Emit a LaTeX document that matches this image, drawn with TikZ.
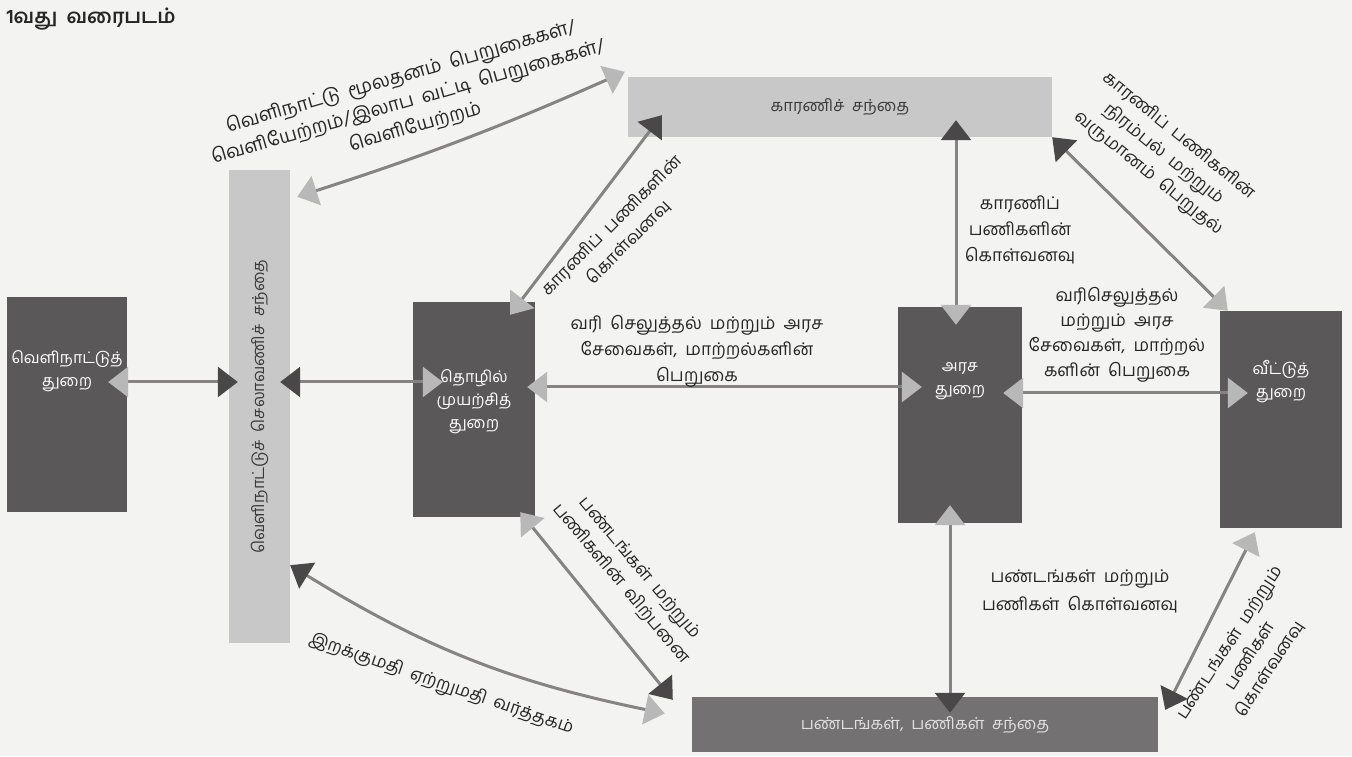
\documentclass[tikz,border=0pt]{standalone}
\usepackage{fontspec}
\setmainfont[Script=Tamil]{Hind Madurai}
\newfontfamily\widetamil[Script=Tamil, WordSpace=1.9]{Hind Madurai}
\usetikzlibrary{arrows.meta, calc}

\definecolor{boxdark}{HTML}{5B5859}
\definecolor{barlight}{HTML}{C9C8C8}
\definecolor{barmid}{HTML}{747172}
\definecolor{tipdark}{HTML}{4A4748}
\definecolor{tiplight}{HTML}{B9B8B8}
\definecolor{flowgray}{HTML}{858384}
\definecolor{inktext}{HTML}{262626}
\definecolor{bartext}{HTML}{3A3A3A}
\definecolor{paper}{HTML}{F3F3F2}

\tikzset{
  sectorbox/.style={fill=boxdark, draw=none, inner sep=0pt},
  marketbar/.style={fill=barlight, draw=none, inner sep=0pt},
  sectortext/.style={text=white, align=center, font=\fontsize{16}{23}\selectfont},
  barlabel/.style={text=bartext, font=\widetamil\fontsize{16.5}{20}\selectfont},
  flowlabel/.style={text=inktext, align=center, font=\widetamil\fontsize{17.5}{26}\selectfont},
  flow/.style={draw=flowgray, line width=3pt},
  dk/.tip={Triangle[length=20pt, width=30pt, color=tipdark]},
  lt/.tip={Triangle[length=20pt, width=30pt, color=tiplight]},
}

\begin{document}
\begin{tikzpicture}[x=1pt, y=1pt]

% page and background
\useasboundingbox (0,0) rectangle (1352,756);
\fill[paper] (0,0) rectangle (1352,756);

% title
\node[anchor=west, text=inktext, font=\widetamil\fontsize{20}{22}\selectfont\bfseries] (title) at (3,737) {1வது வரைபடம்};

% sectors (dark boxes)
\node[sectorbox, minimum width=120pt, minimum height=215pt] (foreign) at (67,351.5) {};
\node[sectorbox, minimum width=122pt, minimum height=215pt] (business) at (474,346.5) {};
\node[sectorbox, minimum width=124pt, minimum height=216pt] (govt) at (960,341) {};
\node[sectorbox, minimum width=122pt, minimum height=217pt] (household) at (1281,336.5) {};

\node[sectortext] (foreign-txt) at ([yshift=33pt]foreign.center) {வெளிநாட்டுத்\\துறை};
\node[sectortext] (business-txt) at ([yshift=8pt]business.center) {தொழில்\\முயற்சித்\\துறை};
\node[sectortext] (govt-txt) at ([yshift=34pt]govt.center) {அரச\\துறை};
\node[sectortext] (household-txt) at ([yshift=38pt]household.center) {வீட்டுத்\\துறை};

% markets (bars)
\node[marketbar, minimum width=61pt, minimum height=473pt] (fx) at (259.5,349.5) {};
\node[barlabel, rotate=90] (fx-txt) at (fx.center) {வெளிநாட்டுச் செலாவணிச் சந்தை};
\node[marketbar, minimum width=424pt, minimum height=60pt, barlabel] (factor) at (840,649) {காரணிச் சந்தை};
\node[marketbar, fill=barmid, minimum width=466pt, minimum height=55pt, barlabel, text=white!88!black] (goods) at (925,31.5) {பண்டங்கள், பணிகள் சந்தை};

% rows and columns for the straight flows
\coordinate (rowA) at (0,374);
\coordinate (rowB) at (0,369);
\coordinate (rowC) at (0,363);
\coordinate (colG) at (956,0);
\coordinate (colH) at (950,0);

% horizontal flows
\draw[flow, {lt}-{dk}, shorten <=-19pt, shorten >=-9pt] (foreign.east |- rowA) -- (fx.west |- rowA);
\draw[flow, {dk}-{lt}, shorten <=-10pt, shorten >=-30pt] (fx.east |- rowA) -- (business.west |- rowA);
\draw[flow, {lt}-{lt}, shorten <=-8pt, shorten >=-24pt] (business.east |- rowB) -- (govt.west |- rowB);
\draw[flow, {lt}-{lt}, shorten <=-19pt, shorten >=-28pt] (govt.east |- rowC) -- (household.west |- rowC);

% vertical flows
\draw[flow, {dk}-{lt}, shorten <=-17pt, shorten >=-18pt] (factor.south -| colG) -- (govt.north -| colG);
\draw[flow, {lt}-{dk}, shorten <=-18pt, shorten >=-16pt] (govt.south -| colH) -- (goods.north -| colH);

% diagonal flows
\draw[flow, {dk}-{lt}] (factor.south east) -- ($(household.north west)+(8,0)$);
\draw[flow, {lt}-{dk}] ($(business.north east)+(-25,-13)$) -- ($(factor.south west)+(34,22)$);
\draw[flow, {lt}-{dk}] ($(business.south east)+(-15,5)$) -- ($(goods.north west)+(-19,-3)$);
\draw[flow, {lt}-{dk}] ($(household.south west)+(35,-4)$) -- ($(goods.north east)+(7,-13)$);

% curved flows of the foreign exchange market
\draw[flow, {lt}-{lt}] ($(fx.north east)+(7,-27)$) to[bend right=3] ($(factor.north west)+(-3,5)$);
\draw[flow, {dk}-{lt}] ($(fx.south east)+(0,78)$) to[bend right=10] ($(goods.west)+(-27,11)$);

% flow labels
\node[flowlabel, rotate=16, font=\widetamil\fontsize{19}{26}\selectfont] (capital-lbl) at (408,654) {வெளிநாட்டு மூலதனம் பெறுகைகள்/\\வெளியேற்றம்/இலாப வட்டி பெறுகைகள்/\\வெளியேற்றம்};
\node[flowlabel, rotate=45, font=\widetamil\fontsize{17.5}{24}\selectfont] (factorbuy-lbl) at (620,522) {காரணிப் பணிகளின்\\கொள்வனவு};
\node[flowlabel] (govbuy-lbl) at (1020,526) {காரணிப்\\பணிகளின்\\கொள்வனவு};
\node[flowlabel, rotate=-39, font=\widetamil\fontsize{17.5}{24}\selectfont] (supply-lbl) at (1163,601) {காரணிப் பணிகளின்\\நிரம்பல் மற்றும்\\வருமானம் பெறுதல்};
\node[flowlabel] (tax-lbl) at (697,405) {வரி செலுத்தல் மற்றும் அரச\\சேவைகள், மாற்றல்களின்\\பெறுகை};
\node[flowlabel, font=\widetamil\fontsize{17.5}{25}\selectfont] (taxhh-lbl) at (1117,421) {வரிசெலுத்தல்\\மற்றும் அரச\\சேவைகள், மாற்றல்\\களின் பெறுகை};
\node[flowlabel, rotate=-50, font=\widetamil\fontsize{17.5}{24}\selectfont] (sales-lbl) at (630,180) {பண்டங்கள் மற்றும்\\பணிகளின் விற்பனை};
\node[flowlabel, rotate=-19] (trade-lbl) at (441,71) {இறக்குமதி ஏற்றுமதி வர்த்தகம்};
\node[flowlabel, font=\widetamil\fontsize{17.5}{28}\selectfont] (govgoods-lbl) at (1080,165) {பண்டங்கள் மற்றும்\\பணிகள் கொள்வனவு};
\node[flowlabel, rotate=57, font=\widetamil\fontsize{17.5}{24}\selectfont] (hhgoods-lbl) at (1250,100) {பண்டங்கள் மற்றும்\\பணிகள்\\கொள்வனவு};

\end{tikzpicture}
\end{document}
